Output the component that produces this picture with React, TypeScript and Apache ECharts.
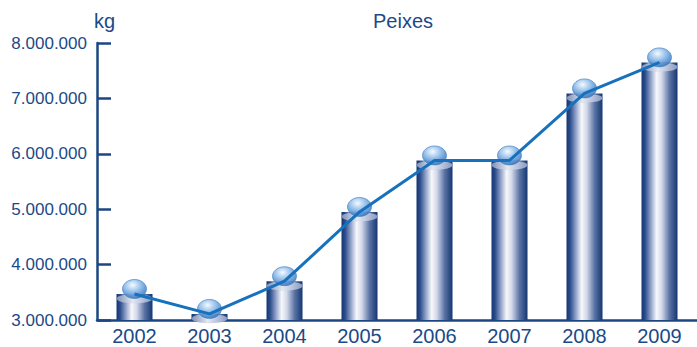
import React, { useEffect, useRef } from "react";
import * as echarts from "echarts";

const years = ["2002", "2003", "2004", "2005", "2006", "2007", "2008", "2009"];
const fishKg = [3470000, 3110000, 3700000, 4950000, 5880000, 5880000, 7090000, 7650000];
const yTicks = { min: 3000000, max: 8000000, interval: 1000000 };

const NAVY = "#1b4682";
const TEXT = "#1a4a88";

function fmt(v: number): string {
  return String(Math.round(v)).replace(/\B(?=(\d{3})+(?!\d))/g, ".");
}

export default function App() {
  const ref = useRef<HTMLDivElement>(null);
  useEffect(() => {
    document.body.style.margin = "0";
    const chart = echarts.init(ref.current!, null, { renderer: "svg" });
    const cylinder = new echarts.graphic.LinearGradient(0, 0, 1, 0, [
      { offset: 0, color: "#143672" },
      { offset: 0.1, color: "#2c4c8c" },
      { offset: 0.27, color: "#98a8cc" },
      { offset: 0.42, color: "#f7f8fc" },
      { offset: 0.56, color: "#d3d9e9" },
      { offset: 0.78, color: "#5a73a4" },
      { offset: 1, color: "#143672" },
    ]);
    const cap = new echarts.graphic.LinearGradient(0, 0, 1, 0, [
      { offset: 0, color: "#7d8fb8" },
      { offset: 0.45, color: "#e4e8f2" },
      { offset: 1, color: "#8a9bc2" },
    ]);
    const sphere = new echarts.graphic.RadialGradient(0.42, 0.3, 0.75, [
      { offset: 0, color: "#f4f9ff" },
      { offset: 0.3, color: "#a3caf0" },
      { offset: 0.7, color: "#4a8ad0" },
      { offset: 1, color: "#2563ab" },
    ]);
    chart.setOption({
      animation: false,
      title: {
        text: "Peixes",
        left: 398,
        top: 6,
        textAlign: "center",
        textStyle: { color: TEXT, fontSize: 20, fontWeight: "normal", fontFamily: "Liberation Sans" },
      },
      graphic: [
        {
          type: "text",
          left: 94,
          top: 11,
          style: { text: "kg", fill: TEXT, fontSize: 20, fontFamily: "Liberation Sans" },
        },
      ],
      grid: { left: 97, top: 43, height: 277, width: 607 },
      xAxis: {
        type: "category",
        data: years,
        boundaryGap: true,
        axisLine: { lineStyle: { color: NAVY, width: 2.5 } },
        axisTick: { inside: true, length: 6, lineStyle: { color: NAVY, width: 2 } },
        axisLabel: { color: TEXT, fontSize: 20, margin: 6, fontFamily: "Liberation Sans" },
      },
      yAxis: {
        type: "value",
        min: yTicks.min,
        max: yTicks.max,
        interval: yTicks.interval,
        axisLine: { show: true, lineStyle: { color: NAVY, width: 2.5 } },
        axisTick: { show: true, inside: true, length: 14, lineStyle: { color: NAVY, width: 2.5 } },
        splitLine: { show: false },
        axisLabel: { color: TEXT, fontSize: 17, margin: 10, fontFamily: "Liberation Sans", formatter: (v: number) => fmt(v) },
      },
      series: [
        {
          type: "bar",
          data: fishKg,
          barWidth: 36,
          itemStyle: { color: cylinder },
          z: 2,
        },
        {
          type: "pictorialBar",
          data: fishKg,
          symbol: "circle",
          symbolSize: [36, 9],
          symbolPosition: "end",
          symbolOffset: [0, 0],
          itemStyle: { color: cap, borderColor: "#6b7fab", borderWidth: 0.8 },
          z: 3,
        },
        {
          type: "scatter",
          data: fishKg,
          symbol: "circle",
          symbolSize: [24, 19],
          symbolOffset: [0, -5],
          itemStyle: { color: sphere, borderColor: "#3a7cc0", borderWidth: 0.8 },
          z: 4,
        },
        {
          type: "line",
          data: fishKg,
          symbol: "none",
          lineStyle: { color: "#1771bc", width: 3 },
          z: 5,
        },
      ],
    });
    return () => chart.dispose();
  }, []);
  return <div ref={ref} style={{ width: 697, height: 347 }} />;
}
